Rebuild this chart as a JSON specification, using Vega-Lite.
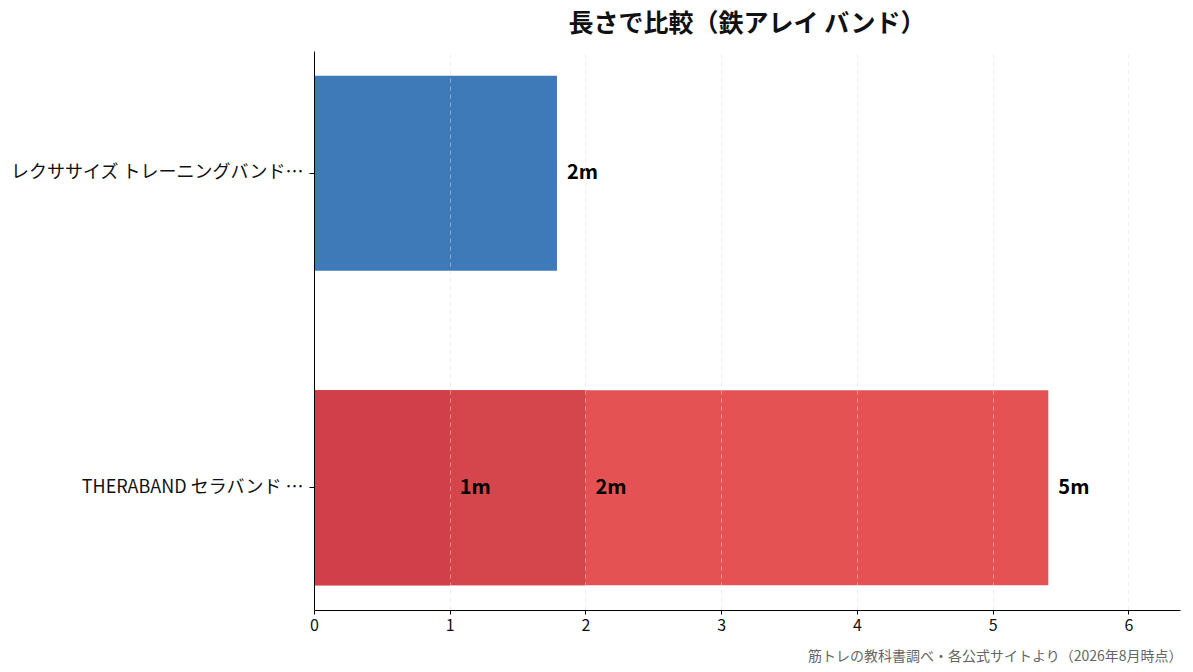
{
  "$schema": "https://vega.github.io/schema/vega-lite/v6.json",
  "width": 866,
  "height": 559,
  "autosize": {"type": "none"},
  "padding": {"left": 314, "top": 51, "right": 13, "bottom": 62},
  "background": "white",
  "config": {
    "font": "Noto Sans CJK JP",
    "view": {"stroke": null},
    "axisX": {
      "labelFontSize": 16,
      "labelColor": "#111111",
      "labelAlign": "center",
      "labelPadding": 3,
      "domainColor": "#000000",
      "tickColor": "#000000",
      "tickSize": 4,
      "gridColor": "#dddddd",
      "gridDash": [4, 4],
      "gridOpacity": 0.5
    },
    "axisY": {
      "labelFontSize": 18,
      "labelColor": "#111111",
      "labelPadding": 6,
      "labelLimit": 320,
      "domainColor": "#000000",
      "tickColor": "#000000",
      "tickSize": 5
    }
  },
  "title": {
    "text": "長さで比較（鉄アレイ バンド）",
    "fontSize": 25,
    "fontWeight": "bold",
    "color": "#111111",
    "anchor": "middle",
    "offset": 14
  },
  "data": {
    "values": [
      {"product": "レクササイズ トレーニングバンド…", "item": "レクササイズ", "length": 1.79, "label": "2m"},
      {"product": "THERABAND セラバンド …", "item": "セラバンド 5m", "length": 5.41, "label": "5m"},
      {"product": "THERABAND セラバンド …", "item": "セラバンド 2m", "length": 2.0, "label": "2m"},
      {"product": "THERABAND セラバンド …", "item": "セラバンド 1m", "length": 1.0, "label": "1m"}
    ]
  },
  "encoding": {
    "y": {
      "field": "product",
      "type": "nominal",
      "sort": ["レクササイズ トレーニングバンド…", "THERABAND セラバンド …"],
      "scale": {"paddingInner": 0.38, "paddingOuter": 0.079},
      "axis": {"title": null, "grid": false, "zindex": 2}
    },
    "x": {
      "field": "length",
      "type": "quantitative",
      "stack": null,
      "scale": {"domain": [0, 6.38], "nice": false},
      "axis": {
        "values": [0, 1, 2, 3, 4, 5, 6],
        "format": "d",
        "labelFontSize": 16,
        "title": "筋トレの教科書調べ・各公式サイトより（2026年8月時点）",
        "titleFontSize": 14,
        "titleFontWeight": "normal",
        "titleColor": "#666666",
        "titleAnchor": "end",
        "titleAlign": "right",
        "titleBaseline": "bottom",
        "titleX": 868,
        "titleY": 53,
        "grid": true,
        "zindex": 1
      }
    }
  },
  "layer": [
    {
      "mark": {"type": "bar"},
      "encoding": {
        "color": {
          "field": "item",
          "type": "nominal",
          "scale": {
            "domain": ["レクササイズ", "セラバンド 5m", "セラバンド 2m", "セラバンド 1m"],
            "range": ["#3F7AB8", "#E55253", "#D4464C", "#D1404A"]
          },
          "legend": null
        }
      }
    },
    {
      "mark": {
        "type": "text",
        "align": "left",
        "baseline": "middle",
        "dx": 10,
        "fontSize": 20,
        "fontWeight": "bold",
        "color": "#000000"
      },
      "encoding": {
        "text": {"field": "label", "type": "nominal"}
      }
    }
  ]
}
